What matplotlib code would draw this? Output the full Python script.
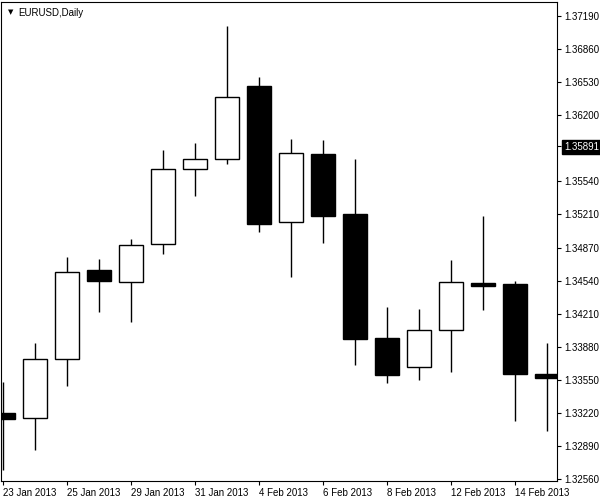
import matplotlib
matplotlib.use("Agg")
import matplotlib.pyplot as plt

dates = ["23 Jan 2013", "24 Jan 2013", "25 Jan 2013", "28 Jan 2013", "29 Jan 2013",
         "30 Jan 2013", "31 Jan 2013", "1 Feb 2013", "4 Feb 2013", "5 Feb 2013",
         "6 Feb 2013", "7 Feb 2013", "8 Feb 2013", "11 Feb 2013", "12 Feb 2013",
         "13 Feb 2013", "14 Feb 2013", "15 Feb 2013"]
opens  = [1.3322, 1.3317, 1.3376, 1.3465, 1.3453, 1.3491, 1.3566, 1.3576, 1.3649,
          1.3513, 1.3581, 1.3521, 1.3397, 1.3368, 1.3405, 1.3452, 1.3451, 1.3361]
highs  = [1.3353, 1.3392, 1.3478, 1.3476, 1.3496, 1.3585, 1.3592, 1.3709, 1.3658,
          1.3596, 1.3595, 1.3576, 1.3428, 1.3426, 1.3475, 1.3519, 1.3454, 1.3392]
lows   = [1.3265, 1.3285, 1.3349, 1.3423, 1.3413, 1.3481, 1.3539, 1.3571, 1.3503,
          1.3458, 1.3492, 1.3370, 1.3352, 1.3355, 1.3363, 1.3425, 1.3314, 1.3304]
closes = [1.3316, 1.3376, 1.3463, 1.3454, 1.3490, 1.3566, 1.3576, 1.3638, 1.3511,
          1.3582, 1.3519, 1.3396, 1.3360, 1.3405, 1.3453, 1.3449, 1.3361, 1.3357]
y_ticks = [1.32560, 1.32890, 1.33220, 1.33550, 1.33880, 1.34210, 1.34540, 1.34870,
           1.35210, 1.35540, 1.35891, 1.36200, 1.36530, 1.36860, 1.37190]
x_tick_idx = [0, 2, 4, 6, 8, 10, 12, 14, 16]
current_price = 1.35891
title = "EURUSD,Daily"

plt.rcParams['font.family'] = ['Liberation Sans', 'DejaVu Sans']

fig = plt.figure(figsize=(6, 5), dpi=100)
ax = fig.add_axes([1/600, 1 - 481/500, 556/600, 479/500])

x = list(range(len(dates)))
ax.vlines(x, lows, highs, color='black', linewidth=1.0, zorder=1)
bottoms = [min(o, c) for o, c in zip(opens, closes)]
heights = [max(abs(c - o), 0.00004) for o, c in zip(opens, closes)]
faces = ['white' if c > o else 'black' for o, c in zip(opens, closes)]
ax.bar(x, heights, bottom=bottoms, width=0.75, color=faces, edgecolor='black',
       linewidth=1.0, zorder=2)

ax.set_xlim(-0.078, 17.297)
ax.set_ylim(1.3254, 1.3733)

ax.yaxis.tick_right()
ax.set_yticks(y_ticks)
ylabels = ["%.5f" % v for v in y_ticks]
ax.set_yticklabels(ylabels, fontsize=7)
ax.tick_params(axis='y', direction='out', length=3, width=0.8, pad=2, colors='black')
for lbl, v in zip(ax.get_yticklabels(), y_ticks):
    if abs(v - current_price) < 1e-7:
        lbl.set_color('white')
        lbl.set_bbox(dict(facecolor='black', edgecolor='black', pad=1.2))

ax.set_xticks(x_tick_idx)
ax.set_xticklabels([dates[i] for i in x_tick_idx], fontsize=7, ha='left')
ax.tick_params(axis='x', direction='out', length=3, width=0.8, pad=2, colors='black')

for s in ax.spines.values():
    s.set_color('black')
    s.set_linewidth(0.8)

ax.text(0.031, 0.978, title, transform=ax.transAxes, fontsize=7, va='center', ha='left')
ax.text(0.012, 0.978, "\u25BC", transform=ax.transAxes, fontsize=5, va='center', ha='left',
        family=['DejaVu Sans'])

fig.savefig('out.png', dpi=100)
